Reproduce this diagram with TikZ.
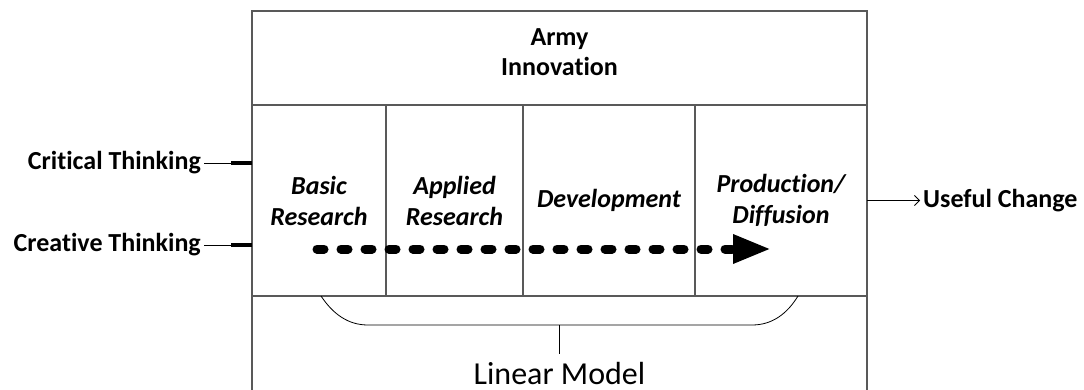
\documentclass[tikz,border=0pt]{standalone}
\usepackage{fontspec}
\setmainfont{Carlito}[Ligatures=NoCommon]
\usetikzlibrary{arrows.meta,positioning}
\tikzset{
    %Define standard arrow tip
    >={Straight Barb[length=5pt,width=10pt]},
    %Define style for phase boxes
    fase/.style={
           rectangle,
           draw=black!65, line width=1.2pt,
           minimum height=191pt,
           inner sep=0pt, outer sep=0pt,
           align=center,
           font=\fontsize{26}{31}\selectfont\bfseries\itshape},
    % Define style for outside labels
    merke/.style={
           inner sep=3pt,
           align=center,
           font=\fontsize{26}{30}\selectfont\bfseries},
    % Define style for the model label
    modell/.style={
           inner sep=2pt,
           font=\fontsize{32}{38}\selectfont},
    % Define arrow style
    pil/.style={
           ->,
           line width=0.8pt},
    % Define style for the flow arrow
    flyt/.style={
           line width=9pt,
           line cap=round,
           dash pattern=on 7pt off 17pt,
           -{Triangle[length=38pt,width=27pt]}},
    % Define style for input stubs
    stump/.style={line width=4pt}
}
\begin{document}
\begin{tikzpicture}[node distance=0pt, auto, x=1pt, y=-1pt]
 \useasboundingbox (0,0) rectangle (1084,390);

 % frame, open at the bottom
 \draw[draw=black!65, line width=1.2pt] (252,400) |- (867,11) -- (867,400);
 \node[merke] (army) at (559.5,52) {Army\\Innovation};

 % phases
 \node[fase, minimum width=134pt] (basic) at (319,200.5) {Basic\\Research};
 \node[fase, minimum width=137pt, right=of basic] (applied) {Applied\\Research};
 \node[fase, minimum width=172pt, right=of applied] (devel) {Development};
 \node[fase, minimum width=172pt, right=of devel] (prod) {Production/\\Diffusion};

 % inputs
 \node[merke, anchor=east] (critical) at (204,163) {Critical Thinking};
 \node[merke, anchor=east] (creative) at (204,245) {Creative Thinking};
 \coordinate (critpin) at (231,163);
 \coordinate (creapin) at (231,245);
 \draw[line width=0.8pt] (critical) -- (critpin);
 \draw[stump] (critpin) -- (critpin -| basic.west);
 \draw[line width=0.8pt] (creative) -- (creapin);
 \draw[stump] (creapin) -- (creapin -| basic.west);

 % output
 \node[merke, right=53pt of prod] (useful) {Useful Change};
 \draw[pil] (prod) -- (useful);

 % flow
 \coordinate (flowstart) at (317,249);
 \coordinate (flowend) at (771,249);
 \draw[flyt] (flowstart) -- (flowend);

 % brace
 \draw[line width=0.8pt] (321,296) .. controls (333,314) and (348,325) .. (368,325)
   -- (752,325) .. controls (772,325) and (787,314) .. (798,296);
 \coordinate (bracemid) at (559.5,325);
 \node[modell, anchor=base] (linear) at (559.5,384) {Linear Model};
 \draw[line width=0.8pt] (bracemid) -- ([yshift=6pt]linear.north);
\end{tikzpicture}
\end{document}
